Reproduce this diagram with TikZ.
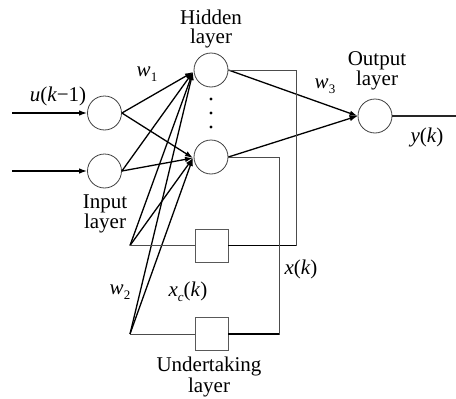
\documentclass[tikz,border=0pt]{standalone}
\usepackage{fontspec}
\setmainfont{Liberation Serif}
\usetikzlibrary{arrows.meta,calc}
\newcommand{\sbs}[1]{\raisebox{-5pt}{\fontsize{13}{13}\selectfont #1}}
\begin{document}
\begin{tikzpicture}[x=1pt,y=-1pt,
  neuron/.style={circle,draw=black!75,line width=0.8pt,minimum size=34pt,inner sep=0pt},
  memo/.style={rectangle,draw=black!65,line width=0.8pt,minimum size=33pt,inner sep=0pt},
  conn/.style={line width=1.3pt,-{Latex[length=8pt,width=5.5pt]}},
  plain/.style={line width=1.3pt},
  thin/.style={draw=black!70,line width=0.9pt},
  lbl/.style={font=\fontsize{21}{19}\selectfont,align=center,inner sep=0pt}]
\useasboundingbox (0,0) rectangle (456,399);
% nodes
\node[neuron] (in1) at (104.5,113) {};
\node[neuron] (in2) at (104.5,171) {};
\node[neuron] (h1) at (211,70) {};
\node[neuron] (h2) at (211,157) {};
\node[neuron] (out) at (375,116) {};
\node[memo] (sq1) at (211.5,245.5) {};
\node[memo] (sq2) at (211.5,334) {};
% coordinates
\coordinate (e1) at (12,113);
\coordinate (e2) at (12,171);
\coordinate (c1) at (130,245.5);
\coordinate (c2) at (130,334);
\coordinate (t1) at (193,72);
\coordinate (t2) at (193,158);
\coordinate (yend) at (456,116);
\coordinate (r1) at (296,70);
\coordinate (r2) at (279,157);
% dots
\foreach \yy in {99,113,127} \fill (211,\yy) circle (1.6pt);
% inputs
\draw[conn] (e1) -- (in1.west);
\draw[conn] (e2) -- (in2.west);
% input -> hidden
\draw[conn] (in1.east) -- (t1);
\draw[conn] (in1.east) -- (t2);
\draw[conn] (in2.east) -- (t1);
\draw[conn] (in2.east) -- (t2);
% context -> hidden
\draw[conn] (c1) -- (t1);
\draw[conn] (c1) -- (t2);
\draw[conn] (c2) -- (t1);
\draw[conn] (c2) -- (t2);
% hidden -> output
\draw[conn] (h1.east) -- (out.west);
\draw[conn] (h2.east) -- (out.west);
% feedback loops
\draw[thin] (h1.east) -- (r1) -- (r1 |- sq1.east) -- (sq1.east);
\draw[plain] (sq1.east) -- (r1 |- sq1.east);
\draw[thin] (h2.east) -- (r2) -- (r2 |- sq2.east) -- (sq2.east);
\draw[plain] (sq2.east) -- (r2 |- sq2.east);
\draw[thin] (sq1.west) -- (c1);
\draw[thin] (sq2.west) -- (c2);
% output
\draw[thin,draw=black!85,line width=1.1pt] (out.east) -- (yend);
% labels
\node[lbl] (lh) at (211,29) {Hidden\\layer};
\node[lbl] (lo) at (377,71) {Output\\layer};
\node[lbl] (li) at (105,214) {Input\\layer};
\node[lbl] (lu) at (209,377) {Undertaking\\layer};
\node[lbl] (lu1) at (58,96) {\textit{u}(\textit{k}−1)};
\node[lbl] (lw1) at (147,74) {\textit{w}\sbs{1}};
\node[lbl] (lw3) at (325,86) {\textit{w}\sbs{3}};
\node[lbl] (lw2) at (120,292) {\textit{w}\sbs{2}};
\node[lbl] (lxc) at (188,292) {\textit{x}\sbs{\textit{c}}(\textit{k})};
\node[lbl] (lx) at (301,269) {\textit{x}(\textit{k})};
\node[lbl] (ly) at (427,137) {\textit{y}(\textit{k})};
\end{tikzpicture}
\end{document}
